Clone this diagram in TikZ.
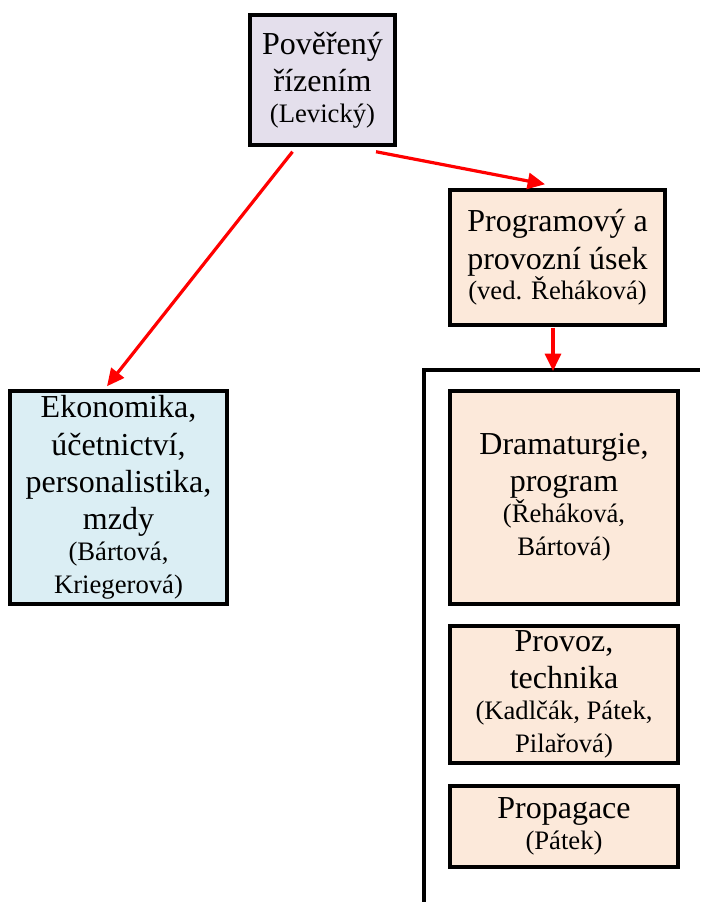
\documentclass[tikz,border=0pt]{standalone}
\usepackage{fontspec}
\setmainfont{Liberation Serif}
\usetikzlibrary{arrows.meta,calc}

\definecolor{lavbox}{HTML}{E4DFEC}
\definecolor{peachbox}{HTML}{FCE9DA}
\definecolor{bluebox}{HTML}{DBEEF4}
\newcommand{\mainsz}{\fontsize{24}{28}\selectfont}
\newcommand{\subsz}{\fontsize{20}{23}\selectfont}

\begin{document}
\begin{tikzpicture}[x=0.75pt,y=-0.75pt]
    \tikzstyle{every node}=[font=\mainsz]
    \tikzstyle{orgbox}=[draw,line width=2.6pt,align=center,inner sep=0pt]
    \tikzstyle{redarrow}=[draw=red,line width=2.4pt,-{Triangle[length=13pt,width=12pt]}]
    \useasboundingbox (0,0) rectangle (700,902);

    \node[orgbox,fill=lavbox,minimum width=108.75pt,minimum height=97.5pt]
        (top) at (322.5,80) {Pověřený\\ řízením\\[-5pt] \subsz (Levický)};

    \node[orgbox,fill=peachbox,minimum width=161.25pt,minimum height=101.25pt]
        (usek) at (557.5,257.5) {Programový a\\ provozní úsek\\[-5pt] \subsz (ved. Řeháková)};

    \node[orgbox,fill=bluebox,minimum width=162.75pt,minimum height=159.75pt]
        (ekon) at (118.5,497.5) {Ekonomika,\\ účetnictví,\\ personalistika,\\ mzdy\\[-5pt]
        \subsz (Bártová,\\[-3pt] \subsz Kriegerová)};

    \node[orgbox,fill=peachbox,minimum width=171pt,minimum height=159.75pt]
        (drama) at (564,497.5) {Dramaturgie,\\ program\\[-5pt] \subsz (Řeháková,\\[-3pt] \subsz Bártová)};

    \node[orgbox,fill=peachbox,minimum width=171pt,minimum height=102.75pt]
        (provoz) at (564,694.5) {Provoz,\\ technika\\[-5pt] \subsz (Kadlčák, Pátek,\\[-3pt] \subsz Pilařová)};

    \node[orgbox,fill=peachbox,minimum width=171pt,minimum height=60.75pt]
        (propag) at (564,826.5) {Propagace\\[-5pt] \subsz (Pátek)};

    \draw[line width=2.6pt] (424,902) |- (700,370);
    \coordinate (brtop) at (553,371);

    \draw[redarrow] ($(top.south)+(-30,5)$) -- ($(ekon.north)+(-11.5,-3)$);
    \draw[redarrow] ($(top.south)+(53.5,5)$) -- ($(usek.north)+(-12.5,-4)$);
    \draw[redarrow] ($(usek.south)+(-4.5,1)$) -- (brtop);

\end{tikzpicture}
\end{document}
